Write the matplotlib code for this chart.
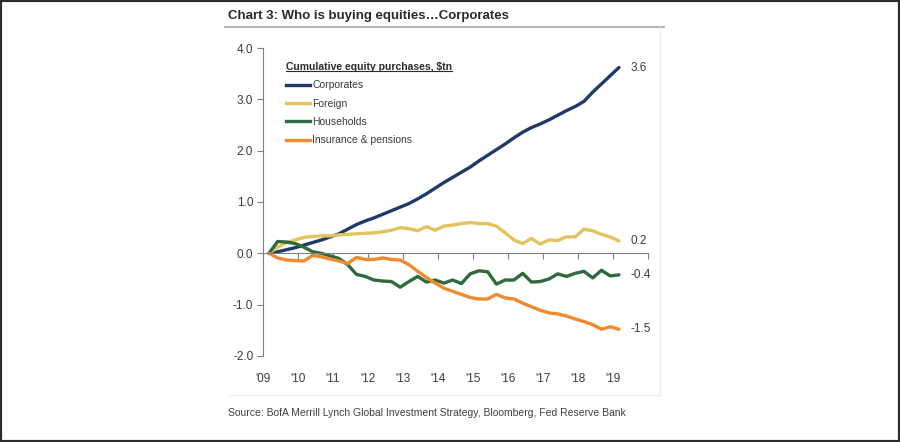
import matplotlib
matplotlib.use("Agg")
import matplotlib.pyplot as plt
import numpy as np
from matplotlib.lines import Line2D
from matplotlib.patches import Rectangle

# quarterly cumulative purchases, $tn (first point ~ Q1 2009)
corporates = [0.00, 0.03, 0.07, 0.11, 0.16, 0.21, 0.26, 0.32, 0.38, 0.47,
              0.56, 0.63, 0.69, 0.76, 0.83, 0.90, 0.97, 1.06, 1.16, 1.27,
              1.38, 1.48, 1.58, 1.68, 1.80, 1.91, 2.02, 2.13, 2.25, 2.36,
              2.45, 2.52, 2.60, 2.69, 2.78, 2.86, 2.96, 3.14, 3.30, 3.46, 3.62]
foreign = [0.00, 0.12, 0.21, 0.26, 0.31, 0.33, 0.34, 0.34, 0.36, 0.37,
           0.38, 0.39, 0.40, 0.42, 0.45, 0.50, 0.48, 0.44, 0.52, 0.45,
           0.53, 0.55, 0.58, 0.60, 0.58, 0.58, 0.53, 0.40, 0.26, 0.19,
           0.29, 0.18, 0.26, 0.25, 0.32, 0.32, 0.47, 0.44, 0.37, 0.32, 0.24]
households = [0.00, 0.23, 0.22, 0.19, 0.12, 0.03, 0.00, -0.05, -0.10, -0.22,
              -0.41, -0.45, -0.52, -0.54, -0.55, -0.66, -0.55, -0.45, -0.56, -0.52,
              -0.58, -0.52, -0.59, -0.40, -0.34, -0.36, -0.60, -0.52, -0.52, -0.39,
              -0.56, -0.55, -0.50, -0.40, -0.45, -0.39, -0.35, -0.48, -0.33, -0.44, -0.42]
insurance = [0.00, -0.09, -0.13, -0.14, -0.15, -0.04, -0.07, -0.11, -0.15, -0.20,
             -0.08, -0.12, -0.12, -0.09, -0.12, -0.13, -0.22, -0.35, -0.47, -0.58,
             -0.68, -0.74, -0.80, -0.86, -0.89, -0.89, -0.80, -0.87, -0.89, -0.97,
             -1.04, -1.11, -1.16, -1.18, -1.22, -1.28, -1.33, -1.39, -1.48, -1.43, -1.48]

series_names = ["Corporates", "Foreign", "Households", "Insurance & pensions"]
end_labels = ["3.6", "0.2", "-0.4", "-1.5"]
year_labels = ["'09", "'10", "'11", "'12", "'13", "'14", "'15", "'16", "'17", "'18", "'19", ""]

COLORS = ["#1f3a68", "#e3c35e", "#2f6a3c", "#f08a2c"]
FONT = ["Liberation Sans", "DejaVu Sans"]
TXT = "#3a3a3a"

quarters = 2009.17 + 0.25 * np.arange(len(corporates))
values = [corporates, foreign, households, insurance]

fig = plt.figure(figsize=(9, 4.42), dpi=100)
ax = fig.add_axes([0.2922, 0.1946, 0.4278, 0.6968])

for vals, col in zip(values, COLORS):
    ax.plot(quarters, vals, color=col, linewidth=2.4, solid_capstyle="round")

# spine position first: it resets the tick objects
for s in ["top", "right"]:
    ax.spines[s].set_visible(False)
ax.spines["left"].set_color("#808080")
ax.spines["bottom"].set_color("#808080")
ax.spines["bottom"].set_position(("data", 0))

ax.set_xlim(2009, 2020)
ax.set_ylim(-2, 4)
yt = np.arange(-2, 4.1, 1)
ax.set_yticks(yt)
ax.set_yticklabels([f"{v:.1f}" for v in yt], family=FONT, fontsize=8.5, color=TXT)
ax.set_xticks(np.arange(2009, 2021))
ax.set_xticklabels(year_labels, family=FONT, fontsize=8.5, color=TXT)
ax.tick_params(axis="y", direction="out", length=4, color="#808080", pad=3)
ax.tick_params(axis="x", direction="out", length=4, color="#808080", pad=82)

for vals, lab in zip(values, end_labels):
    ax.annotate(lab, (quarters[-1], vals[-1]), xytext=(8, 0), textcoords="offset points",
                va="center", ha="left", family=FONT, fontsize=8.5, color=TXT)

# legend
handles = [Line2D([], [], color=c, linewidth=2.4) for c in COLORS]
leg = ax.legend(handles, series_names, loc="upper left", bbox_to_anchor=(0.035, 0.985),
                frameon=False, prop={"family": FONT, "size": 7.5},
                handlelength=2.3, handletextpad=0.25, labelspacing=0.8,
                title="Cumulative equity purchases, $tn", alignment="left")
leg.get_title().set_fontfamily(FONT)
leg.get_title().set_fontsize(7.5)
leg.get_title().set_fontweight("bold")
leg.get_title().set_color("#2a2a2a")
for t in leg.get_texts():
    t.set_color(TXT)

# title, rule, source, frame
fig.text(0.253, 0.963, "Chart 3: Who is buying equities\u2026Corporates",
         family=FONT, fontsize=9.5, fontweight="bold", color="#2a2a2a",
         ha="left", va="center")
fig.add_artist(Line2D([0.25, 0.738], [0.939, 0.939], color="#b4b4bc", linewidth=1.5))
fig.add_artist(Line2D([0.733, 0.733], [0.105, 0.939], color="#ececec", linewidth=0.8))
fig.add_artist(Line2D([0.255, 0.733], [0.106, 0.106], color="#ececec", linewidth=0.8))
fig.text(0.253, 0.066, "Source: BofA Merrill Lynch Global Investment Strategy, Bloomberg, Fed Reserve Bank",
         family=FONT, fontsize=7.5, color="#404040", ha="left", va="center")
fig.add_artist(Rectangle((0, 0), 1, 1, transform=fig.transFigure, fill=False,
                         edgecolor="#2b2b2b", linewidth=3))

# underline the legend title
fig.canvas.draw()
bb = leg.get_title().get_window_extent().transformed(fig.transFigure.inverted())
fig.add_artist(Line2D([bb.x0, bb.x1], [bb.y0 + 0.002, bb.y0 + 0.002], color="#2a2a2a", linewidth=0.8))

fig.savefig("out.png", dpi=100)
